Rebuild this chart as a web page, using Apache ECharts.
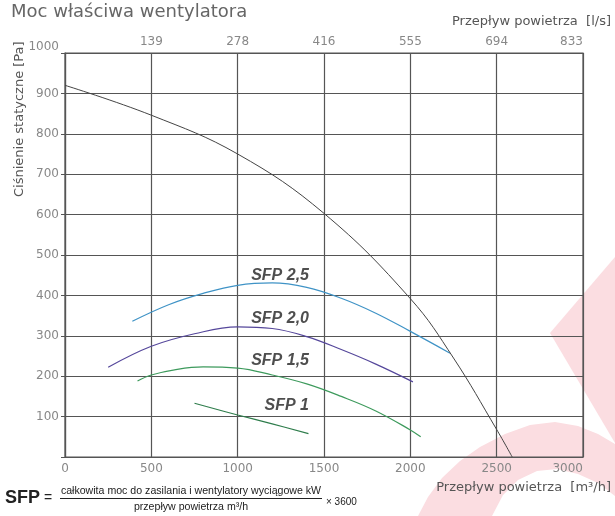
<!DOCTYPE html>
<html>
<head>
<meta charset="utf-8">
<script src="https://cdn.jsdelivr.net/npm/echarts@6/dist/echarts.min.js"></script>
<style>
html,body{margin:0;padding:0;background:#fff;}
#chart{width:615px;height:516px;}
</style>
</head>
<body>
<div id="chart"></div>
<script>
// Airflow [m³/h] vs static pressure [Pa]
const xTicks = [0, 500, 1000, 1500, 2000, 2500, 3000];
const topTickLabels = ['', '139', '278', '416', '555', '694', '833'];
const fanCurve = [[0,920],[500,846],[1000,750],[1500,603],[2000,392],[2250,245],[2500,68],[2590,0]];
const sfp25 = [[390,336],[600,377],[800,405],[1000,425],[1200,431],[1400,420],[1600,393],[1800,356],[2000,311],[2230,257]];
const sfp20 = [[250,222],[500,274],[750,305],[1000,322],[1200,318],[1400,298],[1600,266],[1800,230],[2015,186]];
const sfp15 = [[420,188],[500,203],[650,217],[800,223],[1000,220],[1200,203],[1400,181],[1600,150],[1800,114],[2000,67],[2060,50]];
const sfp10 = [[750,133],[1000,104],[1200,82],[1410,58]];
const sfpNames = ['SFP 2,5', 'SFP 2,0', 'SFP 1,5', 'SFP 1'];
const sfpLabelPos = [[1413,450],[1413,343],[1413,239],[1413,128]];

const chart = echarts.init(document.getElementById('chart'), null, {renderer:'canvas'});
const gridColor = '#555';
const labelFont = 'DejaVu Sans';
const pink = '#fbdde1';

const option = {
  animation: false,
  backgroundColor: '#fff',
  grid: {left: 65, right: 32, top: 53, bottom: 59, show: true, borderColor: gridColor, borderWidth: 1.2, backgroundColor: 'transparent'},
  xAxis: [
    {
      type: 'value', position: 'bottom', min: 0, max: 3000, interval: 500,
      axisLine: {show: true, lineStyle: {color: gridColor, width: 1.2}},
      axisTick: {show: false},
      splitLine: {show: true, lineStyle: {color: gridColor, width: 1.2}},
      axisLabel: {color: '#888', fontSize: 12, fontFamily: labelFont, margin: 6, alignMaxLabel: 'right',
        formatter: v => String(v)}
    },
    {
      type: 'value', position: 'top', min: 0, max: 3000, interval: 500,
      axisLine: {show: true, lineStyle: {color: gridColor, width: 1.2}},
      axisTick: {show: false},
      splitLine: {show: false},
      axisLabel: {color: '#888', fontSize: 12, fontFamily: labelFont, margin: 5, alignMaxLabel: 'right',
        formatter: v => topTickLabels[xTicks.indexOf(v)] || ''}
    }
  ],
  yAxis: {
    type: 'value', min: 0, max: 1000, interval: 100,
    axisLine: {show: true, lineStyle: {color: gridColor, width: 1.2}},
    axisTick: {show: true, length: 4, lineStyle: {color: gridColor}},
    splitLine: {show: true, lineStyle: {color: gridColor, width: 1.2}},
    axisLabel: {color: '#888', fontSize: 12, fontFamily: labelFont, margin: 6,
      verticalAlignMaxLabel: 'bottom',
      formatter: v => v === 0 ? '' : String(v)}
  },
  graphic: [
    {type: 'polygon', z: -10, silent: true, shape: {points: [[550,333],[615,257],[615,443]]}, style: {fill: pink}},
    {type: 'polygon', z: -10, silent: true, shape: {points: [
      [418,516],[428,497],[442,478],[460,461],[480,447],[505,434],[530,425],[555,422],[578,426],[598,434],[615,444],
      [615,496],[598,483],[578,474],[557,469],[537,471],[518,480],[503,495],[492,516]]}, style: {fill: pink}},
    {type: 'text', left: 11, top: 3, style: {text: 'Moc właściwa wentylatora', font: '18px "DejaVu Sans"', fill: '#666'}},
    {type: 'text', x: 611, y: 22, style: {text: 'Przepływ powietrza  [l/s]', font: '13px "DejaVu Sans"', fill: '#555', textAlign: 'right', textVerticalAlign: 'middle'}},
    {type: 'text', x: 611, y: 488, style: {text: 'Przepływ powietrza  [m³/h]', font: '13px "DejaVu Sans"', fill: '#555', textAlign: 'right', textVerticalAlign: 'middle'}},
    {type: 'text', x: 20, y: 197, rotation: Math.PI / 2, style: {text: 'Ciśnienie statyczne [Pa]', font: '13px "DejaVu Sans"', fill: '#555', textAlign: 'left', textVerticalAlign: 'middle'}},
    {type: 'text', x: 5, y: 498, style: {text: 'SFP', font: 'bold 18px "Liberation Sans"', fill: '#222', textAlign: 'left', textVerticalAlign: 'middle'}},
    {type: 'text', x: 44, y: 498, style: {text: '=', font: '14px "Liberation Sans"', fill: '#222', textAlign: 'left', textVerticalAlign: 'middle'}},
    {type: 'text', x: 191, y: 491, style: {text: 'całkowita moc do zasilania i wentylatory wyciągowe kW', font: '10.6px "Liberation Sans"', fill: '#222', textAlign: 'center', textVerticalAlign: 'middle'}},
    {type: 'line', shape: {x1: 60, y1: 498.5, x2: 322, y2: 498.5}, style: {stroke: '#222', lineWidth: 1}},
    {type: 'text', x: 191, y: 507, style: {text: 'przepływ powietrza m³/h', font: '10.6px "Liberation Sans"', fill: '#222', textAlign: 'center', textVerticalAlign: 'middle'}},
    {type: 'text', x: 326, y: 502, style: {text: '× 3600', font: '10px "Liberation Sans"', fill: '#222', textAlign: 'left', textVerticalAlign: 'middle'}}
  ],
  series: [
    {type: 'line', data: fanCurve, smooth: 0.4, showSymbol: false, lineStyle: {color: '#444', width: 1}, z: 5},
    {type: 'line', data: sfp25, smooth: 0.4, showSymbol: false, lineStyle: {color: '#3f93c6', width: 1.2}},
    {type: 'line', data: sfp20, smooth: 0.4, showSymbol: false, lineStyle: {color: '#55479b', width: 1.2}},
    {type: 'line', data: sfp15, smooth: 0.4, showSymbol: false, lineStyle: {color: '#3d9a5c', width: 1.2}},
    {type: 'line', data: sfp10, smooth: 0.4, showSymbol: false, lineStyle: {color: '#2f7d4c', width: 1.2}},
    {
      type: 'scatter', symbolSize: 0, silent: true,
      data: sfpNames.map((n, i) => ({name: n, value: sfpLabelPos[i]})),
      label: {show: true, position: [0, 0], align: 'right', verticalAlign: 'middle', formatter: p => p.name,
        fontFamily: 'Liberation Sans', fontWeight: 'bold', fontStyle: 'italic', fontSize: 16, color: '#222'}
    }
  ]
};
chart.setOption(option);
</script>
</body>
</html>
